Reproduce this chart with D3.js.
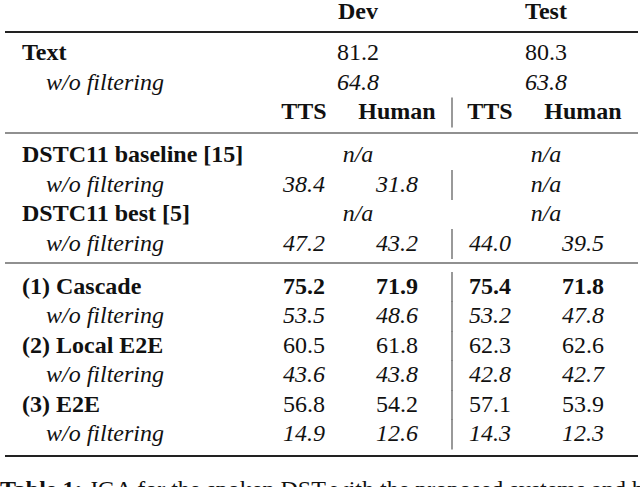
<!doctype html>
<html>
<head>
<meta charset="utf-8">
<script src="https://d3js.org/d3.v7.min.js"></script>
<style>
 body { margin: 0; background: #fff; }
 text { font-family: "Liberation Serif", "Times New Roman", serif; font-size: 24px; fill: #111; }
</style>
</head>
<body>
<script>
// table data
var groups = ["Dev", "Test"];
var subCols = ["TTS", "Human", "TTS", "Human"];
var textLabel = "Text";
var textScores = [81.2, 80.3];
var textNoFilter = [64.8, 63.8];
var systems = ["DSTC11 baseline [15]", "DSTC11 best [5]", "(1) Cascade", "(2) Local E2E", "(3) E2E"];
var filtered = [
  [null, null, null, null],
  [null, null, null, null],
  [75.2, 71.9, 75.4, 71.8],
  [60.5, 61.8, 62.3, 62.6],
  [56.8, 54.2, 57.1, 53.9]
];
var unfiltered = [
  [38.4, 31.8, null, null],
  [47.2, 43.2, 44.0, 39.5],
  [53.5, 48.6, 53.2, 47.8],
  [43.6, 43.8, 42.8, 42.7],
  [14.9, 12.6, 14.3, 12.3]
];
var bestSystem = "(1) Cascade";
var noFilterLabel = "w/o filtering";
var caption = "Table 1: JGA for the spoken DST with the proposed systems and baselines.";

var W = 640, H = 487;
var svg = d3.select("body").append("svg")
  .attr("width", W)
  .attr("height", H);

var fmt = d3.format(".1f");

// column centres and group centres
var x = d3.scaleLinear().domain([0, 3]).range([304, 583]);
var xGroup = d3.scaleOrdinal().domain(groups).range([358, 546]);
var xSep = 452;

// row baselines: index i, block b
var rowY = function(i, b) { return 60 + 29.5 * i + 13.5 * b; };

// rules
function rule(y, w) {
  svg.append("line")
    .attr("x1", 5).attr("x2", 638)
    .attr("y1", y).attr("y2", y)
    .attr("stroke", "#222")
    .attr("stroke-width", w);
}
rule(32, 1.8);
rule(133, 1.1);
rule(263, 1.1);
rule(456, 2);

function sep(y) {
  svg.append("line")
    .attr("x1", xSep).attr("x2", xSep)
    .attr("y1", y - 21.5).attr("y2", y + 8.5)
    .attr("stroke", "#555")
    .attr("stroke-width", 1.2);
}

// header
svg.selectAll("text.grp")
  .data(groups)
  .enter().append("text")
  .attr("class", "grp")
  .attr("x", function(d) { return xGroup(d); })
  .attr("y", 18.5)
  .attr("text-anchor", "middle")
  .attr("font-weight", "bold")
  .text(function(d) { return d; });

// text row
svg.append("text").attr("x", 22).attr("y", rowY(0, 0))
  .attr("font-weight", "bold").text(textLabel);
svg.append("text").attr("x", 46).attr("y", rowY(1, 0))
  .attr("font-style", "italic").text(noFilterLabel);
groups.forEach(function(g, k) {
  svg.append("text").attr("x", xGroup(g)).attr("y", rowY(0, 0))
    .attr("text-anchor", "middle").text(fmt(textScores[k]));
  svg.append("text").attr("x", xGroup(g)).attr("y", rowY(1, 0))
    .attr("text-anchor", "middle").attr("font-style", "italic").text(fmt(textNoFilter[k]));
});

// sub column header
svg.selectAll("text.sub")
  .data(subCols)
  .enter().append("text")
  .attr("class", "sub")
  .attr("x", function(d, i) { return x(i); })
  .attr("y", rowY(2, 0))
  .attr("text-anchor", "middle")
  .attr("font-weight", "bold")
  .text(function(d) { return d; });
sep(rowY(2, 0));

// system rows
function drawRow(vals, y, opts) {
  var any = vals.some(function(v) { return v !== null; });
  if (any || opts.forceSep) sep(y);
  groups.forEach(function(g, k) {
    var a = vals[2 * k], b = vals[2 * k + 1];
    if (a === null && b === null) {
      svg.append("text").attr("x", xGroup(g)).attr("y", y)
        .attr("text-anchor", "middle").attr("font-style", "italic").text("n/a");
    } else {
      [a, b].forEach(function(v, j) {
        svg.append("text").attr("x", x(2 * k + j)).attr("y", y)
          .attr("text-anchor", "middle")
          .attr("font-style", opts.italic ? "italic" : null)
          .attr("font-weight", opts.bold ? "bold" : null)
          .text(v === null ? "n/a" : fmt(v));
      });
    }
  });
}

systems.forEach(function(s, k) {
  var block = k < 2 ? 1 : 2;
  var i = 3 + 2 * k;
  var y1 = rowY(i, block), y2 = rowY(i + 1, block);
  svg.append("text").attr("x", 22).attr("y", y1)
    .attr("font-weight", "bold").text(s);
  svg.append("text").attr("x", 46).attr("y", y2)
    .attr("font-style", "italic").text(noFilterLabel);
  drawRow(filtered[k], y1, { bold: s === bestSystem, forceSep: block === 2 });
  drawRow(unfiltered[k], y2, { italic: true, forceSep: block === 2 });
});

// caption (cut off at the bottom, as in the source page)
var cap = svg.append("text").attr("x", 0).attr("y", 497);
cap.append("tspan").attr("font-weight", "bold").text(caption.slice(0, 8));
cap.append("tspan").text(caption.slice(8));
</script>
</body>
</html>
